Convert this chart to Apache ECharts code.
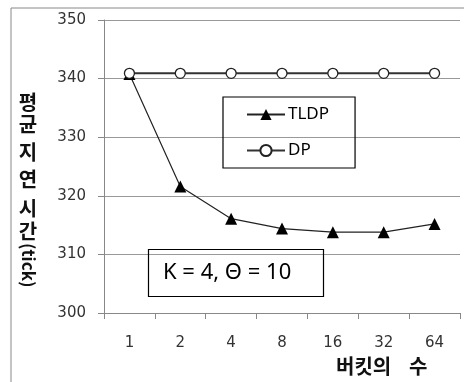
<!DOCTYPE html>
<html>
<head>
<meta charset="utf-8">
<style>
  html, body { margin: 0; padding: 0; background: #fff; }
  #chart { width: 464px; height: 382px; }
</style>
<script src="https://cdn.jsdelivr.net/npm/echarts@6/dist/echarts.min.js"></script>
</head>
<body>
<div id="chart"></div>
<script type="text/javascript">
  // 버킷의 수
  const buckets = ['1', '2', '4', '8', '16', '32', '64'];
  // 평균 지연 시간 (tick)
  const tldp = [340.8, 321.6, 316.1, 314.4, 313.8, 313.8, 315.2];
  const dp = [340.9, 340.9, 340.9, 340.9, 340.9, 340.9, 340.9];
  const yTicks = { min: 300, max: 350, step: 10 };

  const myChart = echarts.init(document.getElementById('chart'));
  const numFont = '"DejaVu Sans", Verdana, sans-serif';
  const krFont = '"Noto Sans CJK KR", sans-serif';

  // stacked vertical y-axis title, one glyph per text element
  const yChars = [['평', 102], ['균', 124], ['지', 152], ['연', 179], ['시', 208], ['간', 231]];
  const yTitle = yChars.map(function (c) {
    return {
      type: 'text',
      x: 28,
      y: c[1],
      style: {
        text: c[0],
        font: 'bold 20px ' + krFont,
        fill: '#111',
        align: 'center',
        verticalAlign: 'middle'
      }
    };
  });

  const option = {
    animation: false,
    backgroundColor: '#fff',
    grid: { left: 104, right: 4, top: 20, bottom: 69 },
    title: {
      text: 'K = 4, \u0398 = 10',
      left: 148,
      top: 249,
      borderColor: '#000',
      borderWidth: 1.2,
      padding: [13, 33, 13, 15],
      textStyle: { fontFamily: '"Noto Sans", sans-serif', fontSize: 22, fontWeight: 'normal', color: '#000' }
    },
    legend: {
      orient: 'vertical',
      left: 223,
      top: 97,
      borderColor: '#000',
      borderWidth: 1.2,
      padding: [9, 26, 9, 23],
      itemGap: 19,
      itemWidth: 38,
      itemHeight: 14,
      textStyle: { fontFamily: '"Noto Sans", sans-serif', fontSize: 17, color: '#000', padding: [0, 0, 0, -2] },
      data: ['TLDP', 'DP']
    },
    xAxis: {
      type: 'category',
      data: buckets,
      boundaryGap: true,
      axisLine: { lineStyle: { color: '#888' } },
      axisTick: { show: true, length: 6, lineStyle: { color: '#888' } },
      axisLabel: { margin: 23, fontFamily: numFont, fontSize: 15, color: '#333' }
    },
    yAxis: {
      type: 'value',
      min: yTicks.min,
      max: yTicks.max,
      interval: yTicks.step,
      axisLine: { show: true, lineStyle: { color: '#888' } },
      axisTick: { show: true, length: 6, lineStyle: { color: '#888' } },
      splitLine: { lineStyle: { color: '#999' } },
      axisLabel: { margin: 18, fontFamily: numFont, fontSize: 15, color: '#333' }
    },
    series: [
      {
        name: 'TLDP',
        type: 'line',
        data: tldp,
        symbol: 'triangle',
        symbolSize: 12,
        itemStyle: { color: '#000' },
        lineStyle: { color: '#222', width: 1.2 }
      },
      {
        name: 'DP',
        type: 'line',
        data: dp,
        symbol: 'circle',
        symbolSize: 10,
        itemStyle: { color: '#fff', borderColor: '#222', borderWidth: 1.3 },
        lineStyle: { color: '#333', width: 2 }
      }
    ],
    graphic: [
      {
        type: 'rect',
        shape: { x: 11, y: 8, width: 470, height: 390 },
        style: { fill: 'none', stroke: '#888', lineWidth: 1 },
        silent: true
      },
      {
        type: 'text',
        x: 37,
        y: 243,
        rotation: -Math.PI / 2,
        style: {
          text: '(tick)',
          font: 'bold 17px ' + krFont,
          fill: '#111'
        }
      },
      {
        type: 'text',
        x: 336,
        y: 356,
        style: { text: '버킷의', font: 'bold 20px ' + krFont, fill: '#111' }
      },
      {
        type: 'text',
        x: 409,
        y: 356,
        style: { text: '수', font: 'bold 20px ' + krFont, fill: '#111' }
      }
    ].concat(yTitle)
  };
  myChart.setOption(option);
  window.addEventListener('resize', function () {
    myChart.resize();
  });
</script>
</body>
</html>
